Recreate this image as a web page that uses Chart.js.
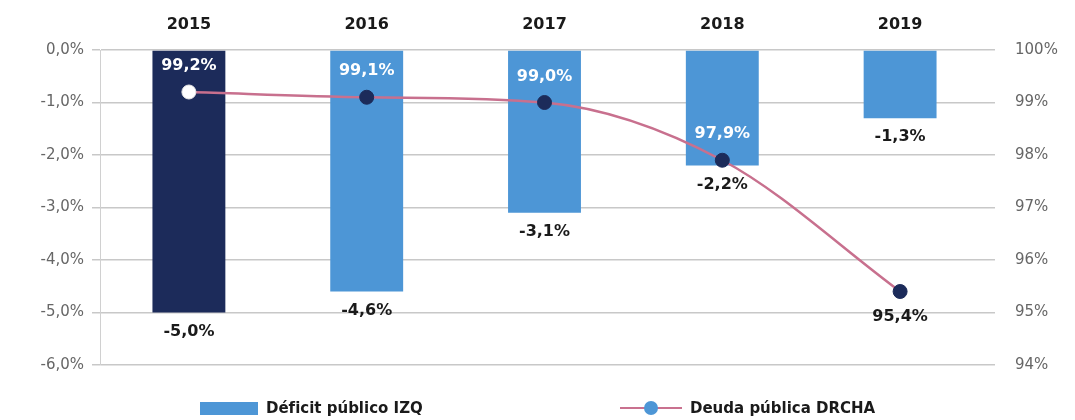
<!DOCTYPE html>
<html lang="es">
<head>
<meta charset="UTF-8">
<title>Déficit y deuda pública</title>
<script src="https://cdn.jsdelivr.net/npm/chart.js"></script>
<style>
  html, body { margin: 0; padding: 0; background: #fff; }
  #wrap { width: 1075px; height: 420px; }
</style>
</head>
<body>
<div id="wrap"><canvas id="grafico" width="1075" height="420"></canvas></div>
<script>
// datos
const anos = ['2015', '2016', '2017', '2018', '2019'];
const deficit = [-5.0, -4.6, -3.1, -2.2, -1.3];
const deuda = [99.2, 99.1, 99.0, 97.9, 95.4];
const ticksIzq = [0, -1, -2, -3, -4, -5, -6];
const ticksDer = [100, 99, 98, 97, 96, 95, 94];

const coma = (v, d) => v.toFixed(d).replace('.', ',') + '%';
const fuente = 'DejaVu Sans';

// etiquetas de valores y leyenda dibujadas a mano
const etiquetas = {
  id: 'etiquetas',
  afterDatasetsDraw(chart) {
    const c = chart.ctx;
    c.save();
    c.font = 'bold 16px ' + fuente;
    c.textAlign = 'center';
    c.textBaseline = 'middle';
    chart.getDatasetMeta(1).data.forEach((b, i) => {
      c.fillStyle = '#1a1a1a';
      c.fillText(coma(deficit[i], 1), b.x, b.y + 19);
    });
    chart.getDatasetMeta(0).data.forEach((p, i) => {
      if (i === 4) {
        c.fillStyle = '#1a1a1a';
        c.fillText(coma(deuda[i], 1), p.x, p.y + 25);
      } else {
        c.fillStyle = '#ffffff';
        c.fillText(coma(deuda[i], 1), p.x, p.y - 26);
      }
    });
    // leyenda
    const y = 408;
    c.fillStyle = '#4d96d6';
    c.fillRect(200, y - 6, 58, 13);
    c.fillStyle = '#1a1a1a';
    c.textAlign = 'left';
    c.font = 'bold 15px ' + fuente;
    c.fillText('Déficit público IZQ', 266, y + 1);
    c.strokeStyle = '#c9718f';
    c.lineWidth = 2;
    c.beginPath(); c.moveTo(620, y); c.lineTo(682, y); c.stroke();
    c.fillStyle = '#4d96d6';
    c.beginPath(); c.arc(651, y, 7, 0, Math.PI * 2); c.fill();
    c.fillStyle = '#1a1a1a';
    c.fillText('Deuda pública DRCHA', 690, y + 1);
    c.restore();
  }
};

new Chart(document.getElementById('grafico'), {
  data: {
    labels: anos,
    datasets: [
      {
        type: 'line',
        label: 'Deuda pública DRCHA',
        data: deuda,
        yAxisID: 'y1',
        borderColor: '#c8708e',
        borderWidth: 2.5,
        cubicInterpolationMode: 'monotone',
        pointRadius: 7,
        pointBackgroundColor: ['#ffffff', '#1c2b5a', '#1c2b5a', '#1c2b5a', '#1c2b5a'],
        pointBorderColor: ['#e6e6e6', '#1c2b5a', '#1c2b5a', '#1c2b5a', '#1c2b5a'],
        pointBorderWidth: 1,
        order: 0
      },
      {
        type: 'bar',
        label: 'Déficit público IZQ',
        data: deficit,
        yAxisID: 'y',
        backgroundColor: ['#1c2b5a', '#4d96d6', '#4d96d6', '#4d96d6', '#4d96d6'],
        barPercentage: 0.82,
        categoryPercentage: 0.5,
        order: 1
      }
    ]
  },
  options: {
    responsive: false,
    animation: false,
    layout: { padding: { top: 0, bottom: 55, left: 0, right: 0 } },
    plugins: { legend: { display: false }, tooltip: { enabled: false } },
    scales: {
      x: {
        position: 'top',
        grid: { display: false },
        border: { display: false },
        ticks: { color: '#1a1a1a', font: { family: fuente, size: 16, weight: 'bold' }, padding: 8, maxRotation: 0 },
        afterFit(s) { s.height = 50; }
      },
      y: {
        position: 'left',
        min: -6, max: 0,
        afterBuildTicks(s) { s.ticks = ticksIzq.map(v => ({ value: v })); },
        ticks: {
          color: '#666',
          font: { family: fuente, size: 15 },
          padding: 8,
          callback: v => coma(v, 1)
        },
        grid: { color: '#c8c8c8', lineWidth: 1.5, tickLength: 8 },
        border: { display: true, color: '#d0d0d0' },
        afterFit(s) { s.width = 100; }
      },
      y1: {
        position: 'right',
        min: 94, max: 100,
        afterBuildTicks(s) { s.ticks = ticksDer.map(v => ({ value: v })); },
        ticks: {
          color: '#666',
          font: { family: fuente, size: 15 },
          padding: 20,
          callback: v => v + '%'
        },
        grid: { drawOnChartArea: false, color: '#c8c8c8', lineWidth: 1.5, tickLength: 6 },
        border: { display: false },
        afterFit(s) { s.width = 86; }
      }
    }
  },
  plugins: [etiquetas]
});
</script>
</body>
</html>
